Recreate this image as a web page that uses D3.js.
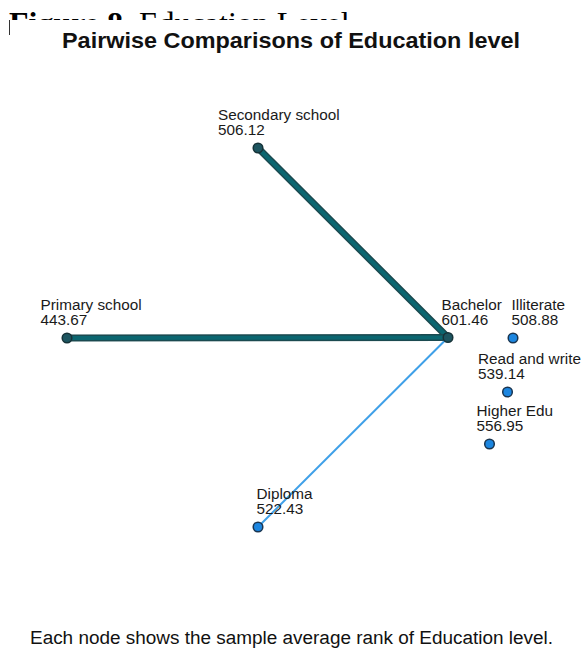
<!DOCTYPE html>
<html><head><meta charset="utf-8">
<script src="https://cdn.jsdelivr.net/npm/d3@7"></script>
<style>html,body{margin:0;padding:0;background:#fff;}svg{display:block;}</style>
</head><body>
<script>
// ---- data ----
const nodeNames = ["Secondary school","Primary school","Bachelor","Illiterate","Read and write","Higher Edu","Diploma"];
const meanRanks = [506.12, 443.67, 601.46, 508.88, 539.14, 556.95, 522.43];
// layout coordinates of the network (abstract units)
const layoutX = [43.6, 5.4, 81.6, 94.6, 93.5, 89.9, 43.6];
const layoutY = [9.6, 47.6, 47.5, 47.6, 58.4, 68.8, 85.4];
const labelDx = [-8, -5.3, -1.3, -0.3, -5.9, -2.6, -0.3];
// pairwise comparisons drawn as edges
const edgeFrom = ["Bachelor","Bachelor","Bachelor"];
const edgeTo = ["Secondary school","Primary school","Diploma"];
const edgeSig = [true, true, false];
const darkNodes = ["Secondary school","Primary school","Bachelor"];

const W = 587, H = 648;
const svg = d3.select("body").append("svg").attr("width", W).attr("height", H);

const x = d3.scaleLinear().domain([0, 100]).range([40, 540]);
const y = d3.scaleLinear().domain([0, 100]).range([100, 600]);
const dx = d3.scaleLinear().domain([0, 100]).range([0, 500]);

// header (clipped figure caption)
const defs = svg.append("defs");
defs.append("clipPath").attr("id", "hdr").append("rect").attr("x", 0).attr("y", 0).attr("width", W).attr("height", 20);
const hdr = svg.append("text").attr("clip-path", "url(#hdr)")
  .attr("x", 9).attr("y", 34)
  .style("font-family", "'Liberation Serif','Times New Roman',serif").style("font-size", "32px").attr("fill", "#000");
hdr.append("tspan").style("font-weight", "bold").text("Figure 8.");
hdr.append("tspan").text(" Education Level");
svg.append("line").attr("x1", 9.5).attr("x2", 9.5).attr("y1", 20).attr("y2", 35).attr("stroke", "#333").attr("stroke-width", 1);

// title
svg.append("text").attr("x", 62).attr("y", 48)
  .attr("textLength", 458).attr("lengthAdjust", "spacingAndGlyphs")
  .style("font-family", "'Liberation Sans',Arial,sans-serif").style("font-weight", "bold").style("font-size", "21.5px")
  .attr("fill", "#111").text("Pairwise Comparisons of Education level");

const nodes = nodeNames.map((n, i) => ({name: n, rank: meanRanks[i], x: x(layoutX[i]), y: y(layoutY[i]), ldx: dx(labelDx[i])}));
const byName = Object.fromEntries(nodes.map(d => [d.name, d]));
const edges = edgeFrom.map((f, i) => ({s: byName[f], t: byName[edgeTo[i]], sig: edgeSig[i]}));

const eg = svg.append("g");
edges.filter(e => e.sig).forEach(e => {
  eg.append("line").attr("x1", e.s.x).attr("y1", e.s.y).attr("x2", e.t.x).attr("y2", e.t.y)
    .attr("stroke", "#1b4a50").attr("stroke-width", 7).attr("stroke-linecap", "round");
  eg.append("line").attr("x1", e.s.x).attr("y1", e.s.y).attr("x2", e.t.x).attr("y2", e.t.y)
    .attr("stroke", "#0b6670").attr("stroke-width", 4).attr("stroke-linecap", "round");
});
edges.filter(e => !e.sig).forEach(e => {
  eg.append("line").attr("x1", e.s.x).attr("y1", e.s.y).attr("x2", e.t.x).attr("y2", e.t.y)
    .attr("stroke", "#3fa0e8").attr("stroke-width", 2);
});

const ng = svg.append("g");
ng.selectAll("circle").data(nodes).join("circle")
  .attr("cx", d => d.x).attr("cy", d => d.y).attr("r", 4.8)
  .attr("fill", d => darkNodes.includes(d.name) ? "#1d5560" : "#1c86e0")
  .attr("stroke", d => darkNodes.includes(d.name) ? "#163238" : "#1a3550").attr("stroke-width", 1.5);

const lg = svg.append("g").style("font-family", "'Liberation Sans',Arial,sans-serif").style("font-size", "15.3px").attr("fill", "#1a1a1a");
nodes.forEach(d => {
  lg.append("text").attr("x", d.x + d.ldx).attr("y", d.y - 28).text(d.name);
  lg.append("text").attr("x", d.x + d.ldx).attr("y", d.y - 13).text(d.rank.toFixed(2));
});

// footnote
svg.append("text").attr("x", 30).attr("y", 644)
  .attr("textLength", 523).attr("lengthAdjust", "spacingAndGlyphs")
  .style("font-family", "'Liberation Sans',Arial,sans-serif").style("font-size", "18px").attr("fill", "#111")
  .text("Each node shows the sample average rank of Education level.");
</script>
</body></html>
